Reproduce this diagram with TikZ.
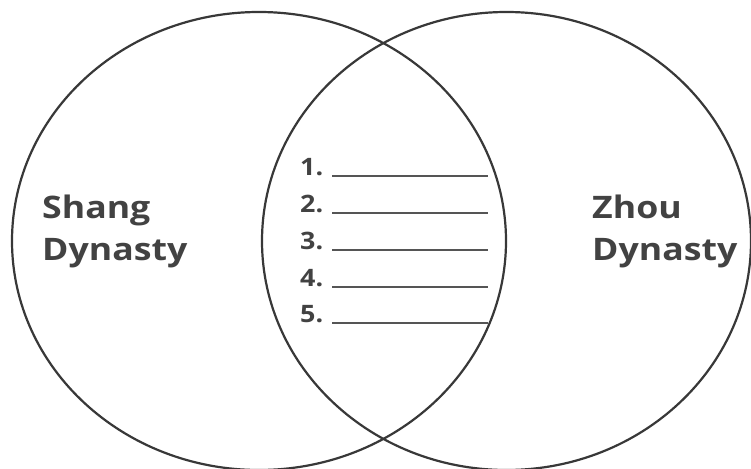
\documentclass[tikz,border=0pt]{standalone}
\usepackage{fontspec}
\setmainfont{Open Sans}
\definecolor{ink}{HTML}{383838}
\definecolor{txt}{HTML}{424242}
\definecolor{rule}{HTML}{555555}
\newcommand{\widen}[2]{\scalebox{#1}[1]{#2}}
\begin{document}
\begin{tikzpicture}[x=1pt,y=-1pt,
  oval/.style={draw=ink,line width=2.2pt},
  title/.style={font=\fontsize{31}{36}\selectfont\bfseries,text=txt,inner sep=0pt,anchor=base west},
  num/.style={font=\fontsize{24}{28}\selectfont\bfseries,text=txt,inner sep=0pt,anchor=base west},
  blank/.style={draw=rule,line width=2pt}]
\useasboundingbox (0,0) rectangle (751,468);
\fill[white] (0,0) rectangle (751,468);
\clip (0,0) rectangle (751,468);
\draw[oval] (259,241) ellipse [x radius=247pt, y radius=229pt];
\draw[oval] (506.5,241) ellipse [x radius=244.5pt, y radius=229pt];
\node[title] (s1) at (42,218) {\widen{1.15}{Shang}};
\node[title] (s2) at (42,260) {\widen{1.15}{Dynasty}};
\node[title] (z1) at (592,218) {\widen{1.15}{Zhou}};
\node[title] (z2) at (592,260) {\widen{1.15}{Dynasty}};
\foreach \i/\y in {1/175,2/212,3/249,4/286,5/322}{
  \node[num] (n\i) at (300,\y) {\widen{1.12}{\i.}};
  \coordinate (a\i) at (332,\y+1);
  \coordinate (b\i) at (488,\y+1);
  \draw[blank] (a\i) -- (b\i);
}
\end{tikzpicture}
\end{document}
